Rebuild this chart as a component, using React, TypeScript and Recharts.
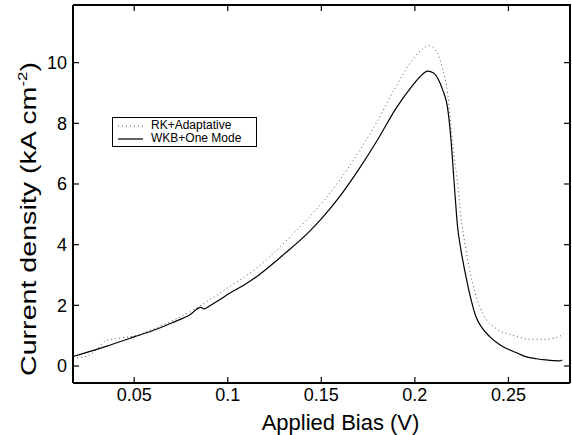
import React from 'react';
import { Line, LineChart, XAxis, YAxis } from 'recharts';

// RK + adaptative mesh (dotted)
const rkBias = [
  0.0173, 0.022, 0.027, 0.031, 0.0345, 0.04, 0.045, 0.05, 0.06, 0.07, 0.08, 0.09, 0.101, 0.1153, 0.1348,
  0.1526, 0.1668, 0.1793, 0.188, 0.1988, 0.204, 0.2077, 0.2121, 0.2148, 0.2175, 0.2193, 0.221, 0.2228,
  0.2246, 0.2273, 0.2308, 0.2362, 0.2433, 0.2521, 0.2611, 0.27, 0.2771, 0.2795,
];
const rkCurrent = [
  0.27, 0.29, 0.4, 0.62, 0.82, 0.9, 0.94, 0.99, 1.22, 1.48, 1.8, 2.17, 2.62, 3.22, 4.35,
  5.55, 6.75, 8.0, 9.0, 10.1, 10.45, 10.56, 10.3, 9.8, 9.0, 7.9, 6.91, 6.03,
  4.93, 3.83, 2.73, 1.74, 1.24, 1.02, 0.88, 0.88, 0.97, 1.08,
];

// WKB + one mode (solid)
const wkbBias = [
  0.0173, 0.0345, 0.05, 0.06, 0.07, 0.08, 0.0855, 0.0875, 0.09, 0.095, 0.101, 0.11, 0.117, 0.13, 0.1437,
  0.15, 0.16, 0.17, 0.18, 0.19, 0.1988, 0.203, 0.2068, 0.21, 0.2125, 0.2148, 0.2175, 0.2193, 0.221,
  0.2228, 0.2246, 0.2273, 0.23, 0.2326, 0.236, 0.24, 0.245, 0.249, 0.255, 0.2593, 0.265, 0.27, 0.2771, 0.2788,
];
const wkbCurrent = [
  0.31, 0.64, 0.96, 1.17, 1.42, 1.7, 1.93, 1.88, 1.97, 2.16, 2.4, 2.72, 3.02, 3.68, 4.44,
  4.85, 5.6, 6.48, 7.45, 8.5, 9.25, 9.55, 9.72, 9.66, 9.45, 9.11, 8.5, 7.46, 6.03,
  4.6, 3.83, 2.95, 2.2, 1.63, 1.25, 0.97, 0.72, 0.58, 0.42, 0.31, 0.24, 0.2, 0.17, 0.2,
];

const xTicks = [0.05, 0.1, 0.15, 0.2, 0.25];
const yTicks = [0, 2, 4, 6, 8, 10];
const xDomain = [0.0173, 0.2829];
const yDomain = [-0.56, 11.9];

const rkData = rkBias.map((v, i) => ({ v, j: rkCurrent[i] }));
const wkbData = wkbBias.map((v, i) => ({ v, j: wkbCurrent[i] }));

const font = '"Liberation Sans", Arial, Helvetica, sans-serif';

// plot box (set by margins + axis sizes below)
const W = 572;
const H = 435;
const box = { left: 73, top: 5, right: 570, bottom: 383 };

function XLabel(props: any) {
  const { x, y, width } = props.viewBox;
  return (
    <text x={x + width / 2 + 19} y={y + 47} textAnchor="middle" fontSize={22} fill="#000">
      Applied Bias (V)
    </text>
  );
}

function YLabel() {
  return (
    <text
      transform="translate(36,219) rotate(-90)"
      textAnchor="middle"
      fontSize={22}
      fill="#000"
      textLength={314}
      lengthAdjust="spacingAndGlyphs"
    >
      Current density (kA cm
      <tspan fontSize={13} dy={-9}>-2</tspan>
      <tspan dy={9}>)</tspan>
    </text>
  );
}

// top and right edges of the box, with mirrored inward ticks
function Frame() {
  const sx = (v: number) => box.left + ((v - xDomain[0]) / (xDomain[1] - xDomain[0])) * (box.right - box.left);
  const sy = (v: number) => box.bottom - ((v - yDomain[0]) / (yDomain[1] - yDomain[0])) * (box.bottom - box.top);
  return (
    <svg
      width={W}
      height={H}
      style={{ position: 'absolute', left: 0, top: 0, pointerEvents: 'none', zIndex: 2 }}
    >
      <path
        d={`M${box.left},${box.top} H${box.right} V${box.bottom}`}
        fill="none"
        stroke="#000"
        strokeWidth={2}
      />
      {xTicks.map((t) => (
        <line key={`x${t}`} x1={sx(t)} y1={box.top} x2={sx(t)} y2={box.top + 6} stroke="#000" strokeWidth={1.2} />
      ))}
      {yTicks.map((t) => (
        <line key={`y${t}`} x1={box.right} y1={sy(t)} x2={box.right - 6} y2={sy(t)} stroke="#000" strokeWidth={1.2} />
      ))}
    </svg>
  );
}

function LegendBox() {
  const row = { display: 'flex', alignItems: 'center', height: 13 } as const;
  return (
    <div
      style={{
        position: 'absolute',
        left: 112,
        top: 117,
        zIndex: 3,
        border: '1.5px solid #000',
        background: '#fff',
        width: 145,
        height: 30,
        boxSizing: 'border-box',
        padding: '1px 0 0 4px',
        fontSize: 12,
        color: '#000',
      }}
    >
      <div style={row}>
        <svg width={28} height={6}>
          <line x1={1} y1={3} x2={26} y2={3} stroke="#555" strokeDasharray="1 3" />
        </svg>
        <span style={{ marginLeft: 6, lineHeight: '13px' }}>RK+Adaptative</span>
      </div>
      <div style={row}>
        <svg width={28} height={6}>
          <line x1={1} y1={3} x2={26} y2={3} stroke="#000" strokeWidth={1.2} />
        </svg>
        <span style={{ marginLeft: 6, lineHeight: '13px' }}>WKB+One Mode</span>
      </div>
    </div>
  );
}

export default function App() {
  const axisStroke = { stroke: '#000', strokeWidth: 2 };
  return (
    <div style={{ fontFamily: font, width: W, height: H, position: 'relative' }}>
      <style>{'body{margin:0}'}</style>
      <LineChart width={W} height={H} margin={{ top: box.top, right: W - box.right, bottom: 0, left: 0 }}>
        <XAxis
          dataKey="v"
          type="number"
          domain={xDomain}
          ticks={xTicks}
          allowDataOverflow
          height={H - box.bottom}
          tickSize={-6}
          tickMargin={11}
          axisLine={axisStroke}
          tickLine={{ stroke: '#000', strokeWidth: 1.2 }}
          tick={{ fill: '#000', fontSize: 18 }}
          tickFormatter={(t: number) => String(t)}
          label={(p: any) => <XLabel {...p} />}
        />
        <YAxis
          type="number"
          domain={yDomain}
          ticks={yTicks}
          allowDataOverflow
          width={box.left}
          tickSize={-6}
          tickMargin={12}
          axisLine={axisStroke}
          tickLine={{ stroke: '#000', strokeWidth: 1.2 }}
          tick={{ fill: '#000', fontSize: 18 }}
          label={() => <YLabel />}
        />
        <Line
          data={rkData}
          dataKey="j"
          name="RK+Adaptative"
          type="monotone"
          stroke="#555"
          strokeWidth={1}
          strokeDasharray="1 3"
          dot={false}
          isAnimationActive={false}
        />
        <Line
          data={wkbData}
          dataKey="j"
          name="WKB+One Mode"
          type="monotone"
          stroke="#000"
          strokeWidth={1.2}
          dot={false}
          isAnimationActive={false}
        />
      </LineChart>
      <Frame />
      <LegendBox />
    </div>
  );
}
